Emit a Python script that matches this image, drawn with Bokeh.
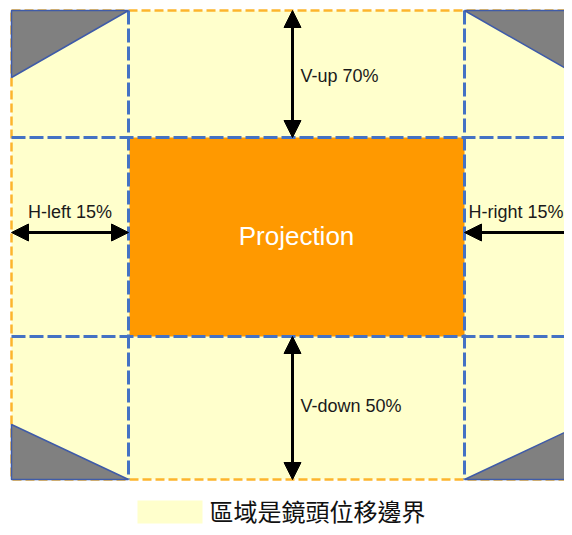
from bokeh.plotting import figure
from bokeh.models import Range1d, ColumnDataSource, Arrow, NormalHead
from bokeh.core.properties import value
from bokeh.embed import file_html
from bokeh.resources import INLINE

# ---- diagram data (reference pixel units) ----
col_edges = [11, 128, 464, 581]      # outer-left, image-left, image-right, outer-right
row_edges = [10, 137, 336, 479]      # outer-top, image-top, image-bottom, outer-bottom
corner_cut_top = 67                  # depth of the grey corner cuts (top)
corner_cut_bottom = 55               # depth of the grey corner cuts (bottom)

shift_labels = ["V-up 70%", "V-down 50%", "H-left 15%", "H-right 15%"]
image_label = "Projection"
legend_label = "區域是鏡頭位移邊界"

L, IL, IR, R = col_edges
T, IT, IB, B = row_edges

p = figure(width=564, height=527, output_backend="svg", toolbar_location=None,
           x_range=Range1d(0, 564), y_range=Range1d(527, 0), min_border=0)
p.axis.visible = False
p.grid.visible = False
p.outline_line_color = None
p.background_fill_color = "white"

# shift area
p.quad(left=[L], right=[R], top=[T], bottom=[B], fill_color="#FFFFCC", line_color=None)
# projected image
p.quad(left=[IL + 1], right=[IR], top=[IT], bottom=[IB], fill_color="#FF9900", line_color=None)
# outer dashed border
p.multi_line(xs=[[L, R, R, L, L]], ys=[[T, T, B, B, T]], line_color="#FDB52C",
             line_width=2.5, line_dash="9 4")
# grid of blue dashed lines
p.multi_line(xs=[[IL, IL], [IR, IR], [L, R], [L, R]],
             ys=[[T, B], [T, B], [IT, IT], [IB, IB]],
             line_color="#4472C4", line_width=3, line_dash="14 4")
# grey corner cuts
p.patches(xs=[[L, IL, L], [IR, R, R], [L, IL, L], [IR, R, R]],
          ys=[[T, T, T + corner_cut_top], [T, T, T + corner_cut_top],
              [B, B, B - corner_cut_bottom], [B, B, B - corner_cut_bottom]],
          fill_color="#808080", line_color="#3F5BA8", line_width=1.5)

# arrows
mid_x = (IL + IR) / 2 - 4
mid_y = 232
arrows = ColumnDataSource(dict(
    x0=[mid_x, mid_x, L, IR], y0=[T, IB, mid_y, mid_y],
    x1=[mid_x, mid_x, IL, R], y1=[IT, B, mid_y, mid_y]))
p.add_layout(Arrow(
    start=NormalHead(size=17, fill_color="black", line_color="black"),
    end=NormalHead(size=17, fill_color="black", line_color="black"),
    x_start="x0", y_start="y0", x_end="x1", y_end="y1",
    line_width=3, line_color="black", source=arrows))

# labels
p.text(x=[mid_x + 8, mid_x + 8], y=[75, 405], text=shift_labels[:2],
       text_font=value("Liberation Sans"), text_font_size="18px",
       text_color="#1a1a1a", text_align="left", text_baseline="alphabetic")
p.text(x=[(L + IL) / 2], y=[211], text=[shift_labels[2]],
       text_font=value("Liberation Sans"), text_font_size="18px",
       text_color="#1a1a1a", text_align="center", text_baseline="alphabetic")
p.text(x=[IR + 4], y=[211], text=[shift_labels[3]],
       text_font=value("Liberation Sans"), text_font_size="18px",
       text_color="#1a1a1a", text_align="left", text_baseline="alphabetic")
p.text(x=[(IL + IR) / 2], y=[235], text=[image_label],
       text_font=value("Liberation Sans"), text_font_size="26px",
       text_color="white", text_align="center", text_baseline="alphabetic")

# legend
p.quad(left=[137], right=[202], top=[500], bottom=[523], fill_color="#FFFFCC", line_color=None)
p.text(x=[209], y=[510], text=[legend_label],
       text_font=value("Noto Sans CJK TC"), text_font_size="24px",
       text_color="#111111", text_align="left", text_baseline="middle")

open("out.html", "w").write(file_html(p, INLINE))
